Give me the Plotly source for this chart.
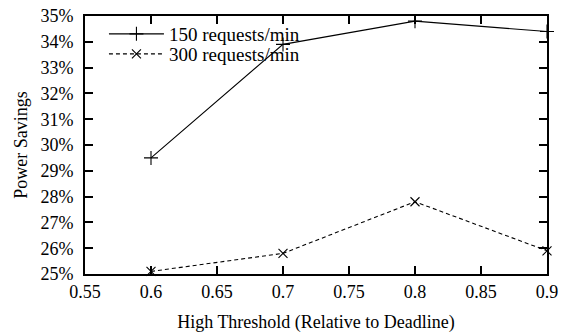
import plotly.graph_objects as go

# Power savings vs. high threshold setting
threshold = [0.6, 0.7, 0.8, 0.9]
savings_150 = [29.5, 33.9, 34.8, 34.4]
savings_300 = [25.1, 25.8, 27.8, 25.9]
series_names = ["150 requests/min", "300 requests/min"]
x_ticks = [0.55, 0.6, 0.65, 0.7, 0.75, 0.8, 0.85, 0.9]
x_tick_text = ["0.55", "0.6", "0.65", "0.7", "0.75", "0.8", "0.85", "0.9"]
y_ticks = [25, 26, 27, 28, 29, 30, 31, 32, 33, 34, 35]
y_tick_text = [f"{v}%" for v in y_ticks]

FONT = "Liberation Serif"

fig = go.Figure()
fig.add_trace(go.Scatter(
    x=threshold, y=savings_150, name=series_names[0],
    mode="lines+markers",
    line=dict(color="black", width=1.1),
    marker=dict(symbol="cross-thin", size=10, line=dict(color="black", width=1.1), color="black"),
    cliponaxis=False, legend="legend",
))
fig.add_trace(go.Scatter(
    x=threshold, y=savings_300, name=series_names[1],
    mode="lines+markers",
    line=dict(color="black", width=1.1, dash="4px,3px"),
    marker=dict(symbol="x-thin", size=9, line=dict(color="black", width=1.1), color="black"),
    cliponaxis=False, legend="legend2",
))

axis_common = dict(
    showline=True, linecolor="black", linewidth=2, mirror="ticks",
    ticks="inside", ticklen=8, tickwidth=2, tickcolor="black",
    showgrid=False, zeroline=False, automargin=False,
    tickfont=dict(family=FONT, size=18, color="black"),
)

legend_common = dict(
    x=0.041, xanchor="left", yanchor="middle",
    bgcolor="rgba(0,0,0,0)", font=dict(family=FONT, size=19, color="black"),
    itemwidth=55, borderwidth=0,
)

fig.update_layout(
    width=564, height=333,
    margin=dict(l=85, r=17, t=16, b=59),
    paper_bgcolor="white", plot_bgcolor="white",
    font=dict(family=FONT, size=18, color="black"),
    xaxis=dict(range=[0.55, 0.9], tickvals=x_ticks, ticktext=x_tick_text,
               title=dict(text="High Threshold (Relative to Deadline)", standoff=30,
                          font=dict(family=FONT, size=18)),
               **axis_common),
    yaxis=dict(range=[25, 35], tickvals=y_ticks, ticktext=y_tick_text,
               ticklabelstandoff=6,
               title=dict(text="Power Savings", standoff=8,
                          font=dict(family=FONT, size=18)),
               **axis_common),
    legend=dict(y=(274 - 34) / 258, **legend_common),
    legend2=dict(y=(274 - 54) / 258, **legend_common),
    showlegend=True,
)

fig.write_html("out.html")
